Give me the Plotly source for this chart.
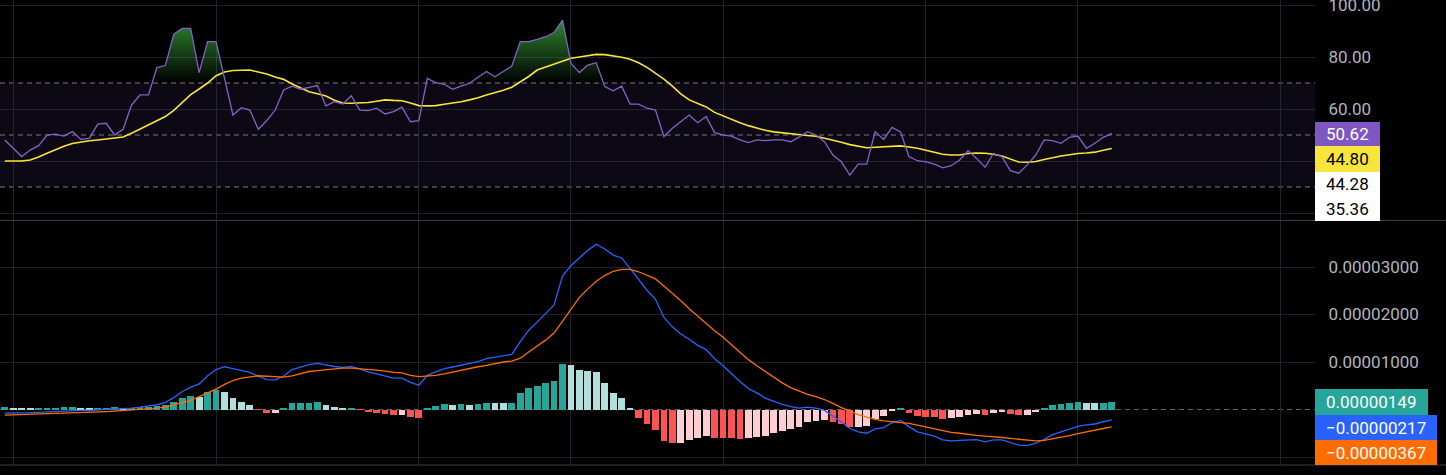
import plotly.graph_objects as go

# ---------------- data ----------------
rsi = [48.1, 44.9, 41.7, 44.2, 45.9, 50.0, 50.3, 49.6, 51.3, 48.3, 48.7, 54.2, 54.5, 50.0, 52.2, 61.5, 65.4, 65.4,
       75.9, 76.7, 88.8, 91.0, 91.0, 74.0, 85.9, 85.9, 71.8, 57.7, 60.5, 59.6, 52.2, 55.5, 59.6, 67.3, 68.8, 67.6,
       68.3, 69.0, 61.2, 62.8, 61.9, 65.1, 59.6, 59.4, 60.3, 58.1, 59.0, 60.7,
       55.1, 55.5, 71.8, 70.1, 69.5, 67.6, 68.8, 69.9, 72.2, 74.4, 72.4, 74.4, 76.5, 85.9, 85.9, 86.8, 87.8, 89.4,
       94.2, 77.6, 74.0, 76.9, 77.8, 68.6, 67.0, 68.8, 61.9, 61.9, 60.3, 59.6, 49.4, 52.6, 55.1, 57.7, 54.7, 57.1,
       50.9, 50.0, 49.6, 48.1, 47.1, 48.1, 47.8, 48.1, 48.1, 47.4, 49.2,
       51.3, 50.0, 47.4, 42.3, 39.7, 34.6, 38.8, 38.8, 51.3, 48.3, 52.9, 51.2, 41.7, 40.1, 39.7, 38.8, 37.4, 38.2,
       40.4, 44.0, 41.0, 37.6, 42.9, 41.7, 36.3, 35.3, 38.5, 42.3, 48.1, 47.8, 46.8, 49.1, 49.6, 44.9, 46.8, 49.1,
       50.62]

rsi_ma = [40, 40, 40, 40.4, 41.5, 43, 44.5, 45.7, 46.7, 47.3,
          47.8, 48.1, 48.5, 48.9, 49.2, 50.7, 52.3, 54.2, 55.6, 57.1,
          59.5, 62.5, 65.5, 67.7, 70, 72.8, 74.2, 74.8, 75, 75,
          74.2, 73.5, 72.3, 71.4, 69.6, 68, 66.6, 65.9, 65, 63.4,
          62.3, 62.2, 62.3, 62.5, 63, 63.5, 63.3, 63.2, 62.3, 61.3,
          61.2, 61.3, 61.8, 62.2, 62.8, 63.5, 64.3, 65.4, 66.3, 67.2,
          68.4, 70.3, 72.5, 75, 76.2, 77.2, 78.3, 79.5, 80, 80.4,
          81, 80.9, 80.4, 79.9, 79.1, 77.8, 76, 73.8, 71.5, 68.8,
          65.8, 63.5, 62, 60.8, 58.7, 57.3, 56, 54.7, 53.6, 52.6,
          51.8, 51.2, 50.8, 50.4, 50.1, 49.8, 49.5, 48.8, 48, 47.2,
          46.3, 45.7, 45.1, 45.3, 45.5, 45.8, 45.8, 45.4, 44.9, 44.1,
          43.3, 42.6, 42.3, 42.3, 42.9, 43.1, 43, 42.6, 41.9, 40.8,
          39.6, 39.5, 39.8, 40.6, 41.3, 41.9, 42.4, 42.9, 43.1, 43.4,
          44.1, 44.8]

# MACD histogram and signal, in units of 1e-5
macd_hist = [0.045, 0.04, 0.035, 0.033, 0.036, 0.04, 0.042, 0.044, 0.046, 0.042,
             0.038, 0.04, 0.042, 0.044, 0.04, 0.042, 0.048, 0.055, 0.07, 0.1,
             0.15, 0.24, 0.28, 0.27, 0.36, 0.41, 0.37, 0.25, 0.16, 0.09,
             -0.01, -0.07, -0.065, 0.025, 0.13, 0.14, 0.145, 0.15, 0.09, 0.045,
             0.015, 0.035, -0.005, -0.06, -0.08, -0.1, -0.12,
             -0.11, -0.15, -0.18, 0.02, 0.07, 0.11, 0.105, 0.11, 0.105, 0.11,
             0.14, 0.135, 0.13, 0.14, 0.35, 0.46, 0.5, 0.55, 0.59,
             0.95, 0.94, 0.83, 0.81, 0.78, 0.56, 0.34, 0.24, 0.02,
             -0.17, -0.31, -0.43, -0.66, -0.71, -0.7, -0.64, -0.61, -0.56,
             -0.59, -0.6, -0.61, -0.62, -0.61, -0.57, -0.56, -0.5, -0.45, -0.4, -0.36,
             -0.27, -0.24, -0.23, -0.27, -0.3, -0.37, -0.36, -0.34, -0.2, -0.14,
             -0.02, 0.04, -0.07, -0.14, -0.15, -0.16, -0.19, -0.18, -0.15, -0.11,
             -0.09, -0.12, -0.07, -0.05, -0.09, -0.12, -0.11, -0.05, 0.02, 0.09,
             0.12, 0.14, 0.155, 0.145, 0.135, 0.142, 0.1492]

macd_signal = [-0.12, -0.115, -0.108, -0.1, -0.095, -0.088, -0.08, -0.072, -0.067, -0.062,
               -0.057, -0.052, -0.045, -0.035, -0.025, -0.012, 0.0, 0.015, 0.03, 0.05,
               0.1, 0.14, 0.19, 0.27, 0.35, 0.43, 0.53, 0.61, 0.66, 0.69,
               0.71, 0.70, 0.69, 0.68, 0.71, 0.76, 0.8, 0.82, 0.84, 0.86,
               0.87, 0.87, 0.86, 0.85, 0.83, 0.81, 0.78,
               0.77, 0.72, 0.69, 0.70, 0.72, 0.75, 0.79, 0.82, 0.86, 0.90,
               0.93, 0.97, 1.0, 1.02, 1.08, 1.21, 1.34, 1.46, 1.61,
               1.86, 2.09, 2.36, 2.54, 2.7, 2.82, 2.91, 2.95, 2.95,
               2.9, 2.82, 2.75, 2.6, 2.45, 2.29, 2.12, 1.96, 1.82,
               1.66, 1.52, 1.36, 1.21, 1.05, 0.92, 0.8, 0.67, 0.56, 0.46, 0.39,
               0.32, 0.27, 0.21, 0.13, 0.04, -0.03, -0.11, -0.16, -0.21, -0.24,
               -0.26, -0.27, -0.29, -0.33, -0.37, -0.40, -0.45, -0.48, -0.5, -0.53,
               -0.545, -0.56, -0.57, -0.59, -0.61, -0.63, -0.65, -0.66, -0.65, -0.62,
               -0.59, -0.55, -0.51, -0.47, -0.44, -0.40, -0.3666]

grid_positions = [1, 25, 49, 67, 85, 109, 127, 151]
rsi_ticks = [20, 40, 60, 80, 100]
rsi_tick_text = ["", "", "60.00", "80.00", "100.00"]
macd_ticks = [-1e-5, 1e-5, 2e-5, 3e-5]
macd_tick_text = ["", "0.00001000", "0.00002000", "0.00003000"]
rsi_levels = [70, 50, 30]
rsi_extra_tags = [44.28, 35.36]

SCALE = 1e-5
# ---------------- derived ----------------
n = len(rsi)
idx = list(range(n))
macd_line = [(s + h) for s, h in zip(macd_signal, macd_hist)]
hist_v = [h * SCALE for h in macd_hist]
sig_v = [s * SCALE for s in macd_signal]
macd_v = [m * SCALE for m in macd_line]

bar_colors = []
for k, h in enumerate(macd_hist):
    prev = macd_hist[k - 1] if k > 0 else 0.0
    if h >= 0:
        bar_colors.append("#26a69a" if h >= prev else "#b2dfdb")
    else:
        bar_colors.append("#ff5252" if h <= prev else "#ffcdd2")

# overbought fill polygon (RSI above 70), with exact crossings
fx, fy = [], []
for k in range(n):
    if k > 0:
        a, b = rsi[k - 1] - 70, rsi[k] - 70
        if a * b < 0:
            t = a / (a - b)
            fx.append(k - 1 + t)
            fy.append(70)
    fx.append(k)
    fy.append(max(rsi[k], 70))

# ---------------- figure ----------------
W, H = 1446, 475
PLOT_W, PLOT_H = 1315, 465
FONT = "Roboto"
GRID = "rgba(42,46,57,0.75)"

fig = go.Figure()

fig.add_trace(go.Scatter(x=fx, y=[70] * len(fx), mode="lines", line=dict(width=0),
                         hoverinfo="skip", xaxis="x", yaxis="y"))
fig.add_trace(go.Scatter(x=fx, y=fy, mode="lines", line=dict(width=0), fill="tonexty",
                         fillgradient=dict(type="vertical", start=70, stop=100,
                                           colorscale=[[0, "rgba(56,160,56,0)"],
                                                       [1, "rgba(60,170,60,1)"]]),
                         hoverinfo="skip", xaxis="x", yaxis="y"))
fig.add_trace(go.Scatter(x=idx, y=rsi_ma, mode="lines", line=dict(color="#f7e53b", width=1.6),
                         xaxis="x", yaxis="y"))
fig.add_trace(go.Scatter(x=idx, y=rsi, mode="lines", line=dict(color="#8462c8", width=1.3),
                         xaxis="x", yaxis="y"))

fig.add_trace(go.Bar(x=idx, y=hist_v, marker=dict(color=bar_colors, line=dict(width=0)),
                     width=0.8, xaxis="x2", yaxis="y2"))
fig.add_trace(go.Scatter(x=idx, y=macd_v, mode="lines", line=dict(color="#2962ff", width=1.3),
                         xaxis="x2", yaxis="y2"))
fig.add_trace(go.Scatter(x=idx, y=sig_v, mode="lines", line=dict(color="#ff6d00", width=1.3),
                         xaxis="x2", yaxis="y2"))

x_range = [-4.8 / 8.45, (PLOT_W - 4.8) / 8.45]
xcommon = dict(range=x_range, showticklabels=False, tickvals=grid_positions, showgrid=True,
               gridcolor=GRID, gridwidth=1, zeroline=False, showline=False, ticks="",
               automargin=False)
tickfont = dict(family=FONT, size=17, color="#b2b5be")

rsi_top = 1 - 220 / PLOT_H
macd_top = 1 - 221 / PLOT_H
fig.update_layout(
    width=W, height=H,
    margin=dict(l=0, r=W - PLOT_W, t=0, b=H - PLOT_H, pad=0, autoexpand=False),
    paper_bgcolor="#000000", plot_bgcolor="#000000",
    showlegend=False, bargap=0,
    xaxis=dict(domain=[0, 1], anchor="y", **xcommon),
    xaxis2=dict(domain=[0, 1], anchor="y2", matches="x", **xcommon),
    yaxis=dict(domain=[rsi_top, 1], range=[100 - (220 - 5) / 2.6, 100 + 5 / 2.6], side="right",
               tickvals=rsi_ticks, ticktext=rsi_tick_text, showgrid=True, gridcolor=GRID,
               zeroline=False, showline=False, ticks="outside", ticklen=9, automargin=False,
               tickcolor="rgba(0,0,0,0)", tickfont=tickfont, ticklabeloverflow="allow"),
    yaxis2=dict(domain=[0, macd_top], range=[-(PLOT_H - 409.5) / 47.5 * SCALE, (409.5 - 221) / 47.5 * SCALE],
                side="right", tickvals=macd_ticks, ticktext=macd_tick_text, showgrid=True,
                gridcolor=GRID, zeroline=False, showline=False, ticks="outside", ticklen=9,
                automargin=False,
                tickcolor="rgba(0,0,0,0)", tickfont=tickfont, ticklabeloverflow="allow"),
)

shapes = []
shapes.append(dict(type="rect", xref="x domain", x0=0, x1=1, yref="y", y0=30, y1=70,
                   fillcolor="rgba(126,87,194,0.1)", line=dict(width=0), layer="below"))
for lv in rsi_levels:
    shapes.append(dict(type="line", xref="x domain", x0=0, x1=1, yref="y", y0=lv, y1=lv,
                       line=dict(color="#787b86", width=1, dash="5px,4px"), layer="below"))
shapes.append(dict(type="line", xref="x domain", x0=0, x1=1, yref="y2", y0=0, y1=0,
                   line=dict(color="#5d606b", width=1, dash="5px,4px"), layer="below"))


def px_x(p):
    return p / PLOT_W


def px_y(p):
    return (PLOT_H - p) / PLOT_H


for yy in (220.5, 465):
    shapes.append(dict(type="line", xref="paper", x0=0, x1=px_x(W), yref="paper",
                       y0=px_y(yy), y1=px_y(yy), line=dict(color="#3a3e49", width=1)))

fmt8 = lambda v: f"{v * SCALE:.8f}".replace("-", "\u2212")
tags = [
    (f"{rsi[-1]:.2f}", "#7e57c2", "#ffffff", 122, 146, 1380),
    (f"{rsi_ma[-1]:.2f}", "#f7e53b", "#000000", 146, 172, 1380),
    (f"{rsi_extra_tags[0]:.2f}", "#ffffff", "#000000", 172, 197, 1380),
    (f"{rsi_extra_tags[1]:.2f}", "#ffffff", "#000000", 197, 221, 1380),
    (fmt8(macd_hist[-1]), "#26a69a", "#ffffff", 389, 415, 1428),
    (fmt8(macd_line[-1]), "#2962ff", "#ffffff", 415, 440, 1437),
    (fmt8(macd_signal[-1]), "#ff6d00", "#ffffff", 440, 465, 1437),
]
annotations = []
for text, bg, fg, y0, y1, xr in tags:
    shapes.append(dict(type="rect", xref="paper", yref="paper", x0=px_x(PLOT_W), x1=px_x(xr),
                       y0=px_y(y1), y1=px_y(y0), fillcolor=bg, line=dict(width=0)))
    annotations.append(dict(text=text, xref="paper", yref="paper", x=px_x(1324), y=px_y((y0 + y1) / 2),
                            xanchor="left", yanchor="middle", showarrow=False,
                            font=dict(family=FONT, size=17, color=fg)))

fig.update_layout(shapes=shapes, annotations=annotations)
fig.write_html("out.html", config={"displayModeBar": False},
               post_script="document.body.style.margin='0';document.body.style.background='#000';")
